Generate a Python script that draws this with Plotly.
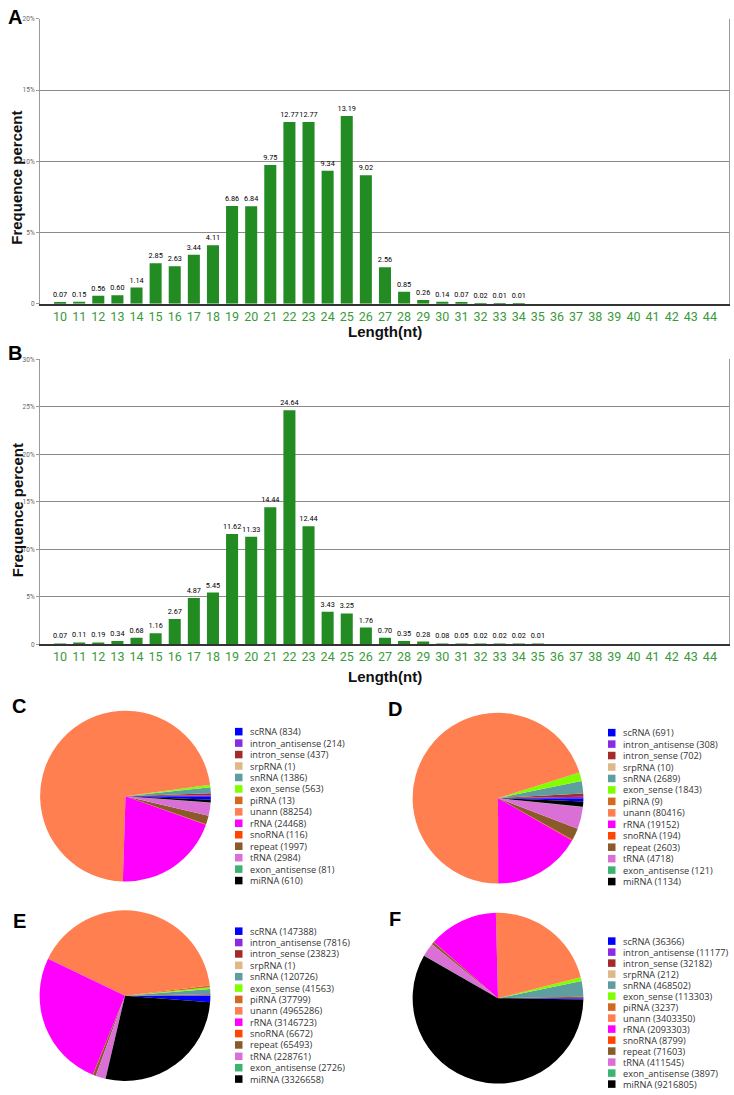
import plotly.graph_objects as go

W, H = 734, 1095

# ---------------- data ----------------
lengths = list(range(10, 45))
freq_A = [0.07, 0.15, 0.56, 0.60, 1.14, 2.85, 2.63, 3.44, 4.11, 6.86, 6.84, 9.75,
          12.77, 12.77, 9.34, 13.19, 9.02, 2.56, 0.85, 0.26, 0.14, 0.07, 0.02, 0.01,
          0.01, 0, 0, 0, 0, 0, 0, 0, 0, 0, 0]
freq_B = [0.07, 0.11, 0.19, 0.34, 0.68, 1.16, 2.67, 4.87, 5.45, 11.62, 11.33, 14.44,
          24.64, 12.44, 3.43, 3.25, 1.76, 0.70, 0.35, 0.28, 0.08, 0.05, 0.02, 0.02,
          0.02, 0.01, 0, 0, 0, 0, 0, 0, 0, 0, 0]
yticks_A = [0, 5, 10, 15, 20]
yticks_B = [0, 5, 10, 15, 20, 25, 30]

rna_classes = ["scRNA", "intron_antisense", "intron_sense", "srpRNA", "snRNA",
               "exon_sense", "piRNA", "unann", "rRNA", "snoRNA", "repeat", "tRNA",
               "exon_antisense", "miRNA"]
rna_colors = ["#0000FF", "#8A2BE2", "#A52A2A", "#DEB887", "#5F9EA0", "#7FFF00",
              "#D2691E", "#FF7F50", "#FF00FF", "#FF4500", "#8B5A2B", "#DA70D6",
              "#3CB371", "#000000"]
counts_C = [834, 214, 437, 1, 1386, 563, 13, 88254, 24468, 116, 1997, 2984, 81, 610]
counts_D = [691, 308, 702, 10, 2689, 1843, 9, 80416, 19152, 194, 2603, 4718, 121, 1134]
counts_E = [147388, 7816, 23823, 1, 120726, 41563, 37799, 4965286, 3146723, 6672,
            65493, 228761, 2726, 3326658]
counts_F = [36366, 11177, 32182, 212, 468502, 113303, 3237, 3403350, 2093303, 8799,
            71603, 411545, 3897, 9216805]


def px(x):
    return x / W


def py(y):
    return 1 - y / H


fig = go.Figure()

BAR_GREEN = "#228B22"
TICK_GREEN = "#3A9A3A"
NARROW = "Roboto, sans-serif"

for vals, xa, ya in [(freq_A, "x", "y"), (freq_B, "x2", "y2")]:
    fig.add_trace(go.Bar(
        x=lengths, y=vals, xaxis=xa, yaxis=ya,
        marker=dict(color=BAR_GREEN, line=dict(width=0)),
        width=0.63,
        text=[f"{v:.2f}" if v > 0 else "" for v in vals],
        textposition="outside", constraintext="none", cliponaxis=False,
        textfont=dict(family=NARROW, size=7.3, color="#000000"),
        showlegend=False, hoverinfo="x+y",
    ))

# bar-chart axes
panels = [
    ("xaxis", "yaxis", "y", "x", (15, 302), yticks_A),
    ("xaxis2", "yaxis2", "y2", "x2", (358, 645), yticks_B),
]
for xk, yk, yanchor, xanchor, (top, bot), yt in panels:
    fig.update_layout(**{
        xk: dict(domain=[px(40), px(729)], anchor=yanchor, range=[8.95, 45.0],
                 tickmode="array", tickvals=lengths, ticktext=[str(v) for v in lengths],
                 tickfont=dict(family=NARROW, size=12.5, color=TICK_GREEN),
                 showgrid=False, zeroline=False, showline=True, linecolor="#333333",
                 linewidth=1.5, ticks=""),
        yk: dict(domain=[py(bot), py(top)], anchor=xanchor,
                 range=[0, yt[-1]], tickmode="array", tickvals=yt,
                 ticktext=["0"] + [f"{v}%" for v in yt[1:]],
                 tickfont=dict(family=NARROW, size=6.5, color="#666666"),
                 showgrid=True, gridcolor="#8A8A8A", gridwidth=1, zeroline=False,
                 showline=True, linecolor="#9A9A9A", linewidth=1, mirror=True,
                 ticks="outside", ticklen=3, tickcolor="#9A9A9A"),
    })

# pies
pie_specs = [
    (counts_C, 125.5, 798, 86),
    (counts_D, 498, 800, 86),
    (counts_E, 125, 999, 86),
    (counts_F, 498, 1001.5, 86),
]
for counts, cx, cy, r in pie_specs:
    fig.add_trace(go.Pie(
        labels=rna_classes, values=counts, sort=False,
        direction="counterclockwise", rotation=90,
        marker=dict(colors=rna_colors, line=dict(width=0)),
        textinfo="none", showlegend=False,
        domain=dict(x=[px(cx - r), px(cx + r)], y=[py(cy + r), py(cy - r)]),
    ))

annotations = []
shapes = []

# legends for pies
legend_specs = [
    (counts_C, 235, 733, 11.54),
    (counts_D, 608, 734, 11.54),
    (counts_E, 235, 934, 11.46),
    (counts_F, 608, 944, 11.08),
]
for counts, lx, ly0, step in legend_specs:
    for i, (name, cnt, col) in enumerate(zip(rna_classes, counts, rna_colors)):
        yc = ly0 + i * step
        shapes.append(dict(type="rect", xref="paper", yref="paper",
                           x0=px(lx), x1=px(lx + 7.5), y0=py(yc + 3.8), y1=py(yc - 3.8),
                           fillcolor=col, line=dict(width=0)))
        annotations.append(dict(x=px(lx + 12.5), y=py(yc), xref="paper", yref="paper",
                                text=f"{name} ({cnt})", showarrow=False,
                                xanchor="left", yanchor="middle",
                                font=dict(family="Open Sans, sans-serif", size=9.2,
                                          color="#333333")))

# panel letters
for letter, x, y in [("A", 15, 13), ("B", 15, 352), ("C", 19, 707),
                     ("D", 395, 710), ("E", 19, 924), ("F", 395, 922)]:
    annotations.append(dict(x=px(x), y=py(y), xref="paper", yref="paper",
                            text=f"<b>{letter}</b>",
                            showarrow=False, xanchor="center", yanchor="middle",
                            font=dict(family="Liberation Sans, Arial, sans-serif",
                                      size=20, color="#000000")))

# axis titles
for yc in [175, 510]:
    annotations.append(dict(x=px(17), y=py(yc), xref="paper", yref="paper",
                            text="<b>Frequence percent</b>", textangle=-90,
                            showarrow=False, xanchor="center", yanchor="middle",
                            font=dict(family="Liberation Sans, Arial, sans-serif",
                                      size=15, color="#111111")))
for yc in [330, 677]:
    annotations.append(dict(x=px(385), y=py(yc), xref="paper", yref="paper",
                            text="<b>Length(nt)</b>", showarrow=False,
                            xanchor="center", yanchor="middle",
                            font=dict(family="Liberation Sans, Arial, sans-serif",
                                      size=15, color="#111111")))

fig.update_layout(
    width=W, height=H, margin=dict(l=0, r=0, t=0, b=0),
    paper_bgcolor="white", plot_bgcolor="white",
    annotations=annotations, shapes=shapes, showlegend=False, bargap=0.37,
)

fig.write_html("out.html", config={"displayModeBar": False},
               post_script="document.body.style.margin='0';")
